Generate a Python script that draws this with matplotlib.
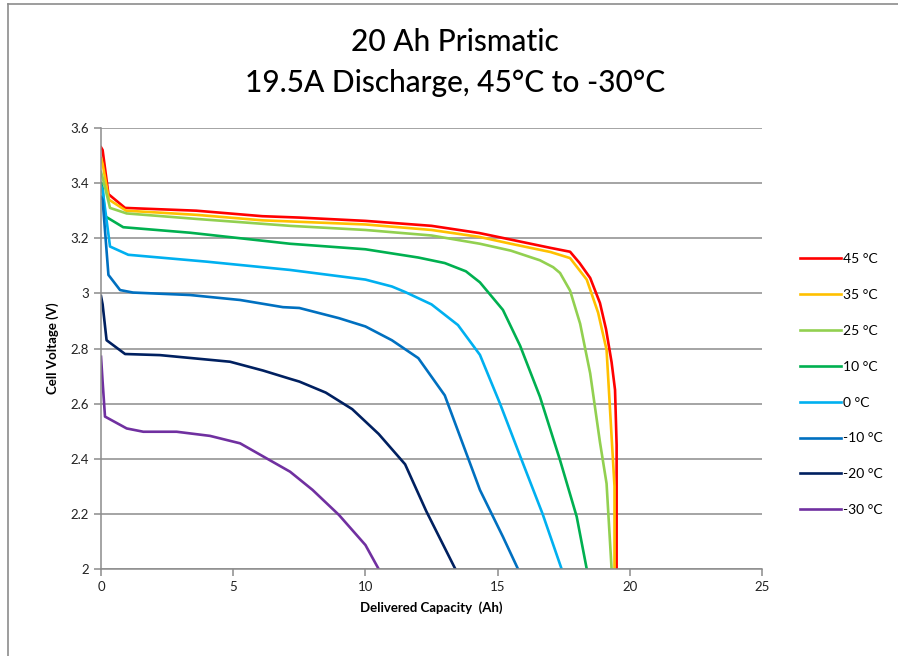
import numpy as np
import matplotlib.pyplot as plt
from matplotlib.lines import Line2D

plt.rcParams['font.family'] = ['Lato', 'DejaVu Sans']

# discharge curves (capacity Ah, voltage V)
cap_45 = [0, 0.06, 0.28, 0.91, 3.6, 6.1, 7.5, 10, 12.5, 14.3, 15.5, 17.0, 17.74, 18.1, 18.5, 18.87, 19.1, 19.31, 19.44, 19.5, 19.5]
v_45 = [3.53, 3.52, 3.36, 3.31, 3.30, 3.28, 3.275, 3.263, 3.245, 3.219, 3.195, 3.165, 3.151, 3.11, 3.056, 2.965, 2.87, 2.75, 2.65, 2.45, 2.0]

cap_35 = [0, 0.06, 0.3, 0.95, 3.6, 6.1, 10, 12.5, 14.3, 15.5, 17.0, 17.74, 18.37, 18.8, 19.12, 19.31, 19.42, 19.42]
v_35 = [3.49, 3.47, 3.34, 3.30, 3.285, 3.265, 3.25, 3.23, 3.205, 3.18, 3.15, 3.128, 3.05, 2.93, 2.795, 2.48, 2.3, 2.0]

cap_25 = [0, 0.06, 0.34, 0.97, 3.62, 7.15, 10, 12.5, 14.33, 15.5, 16.6, 17.1, 17.36, 17.74, 18.12, 18.5, 18.87, 19.12, 19.31]
v_25 = [3.44, 3.42, 3.31, 3.29, 3.27, 3.245, 3.23, 3.21, 3.18, 3.155, 3.12, 3.095, 3.074, 3.01, 2.89, 2.71, 2.46, 2.31, 2.0]

cap_10 = [0, 0.06, 0.15, 0.84, 3.37, 7.15, 10, 12.0, 13.0, 13.8, 14.33, 15.2, 15.85, 16.6, 17.36, 17.99, 18.37]
v_10 = [3.40, 3.38, 3.28, 3.24, 3.22, 3.18, 3.16, 3.13, 3.11, 3.08, 3.04, 2.94, 2.81, 2.625, 2.395, 2.19, 2.0]

cap_0 = [0, 0.06, 0.34, 1.03, 4.0, 7.15, 10, 11.0, 11.5, 12.5, 13.5, 14.33, 15.09, 15.85, 16.7, 17.42]
v_0 = [3.39, 3.375, 3.17, 3.14, 3.115, 3.085, 3.05, 3.025, 3.005, 2.96, 2.885, 2.777, 2.60, 2.41, 2.20, 2.0]

cap_m10 = [0, 0.06, 0.28, 0.72, 1.21, 3.37, 5.26, 6.88, 7.5, 9, 10, 11, 12, 13, 14.33, 15.2, 15.77]
v_m10 = [3.35, 3.34, 3.067, 3.012, 3.003, 2.994, 2.976, 2.95, 2.947, 2.91, 2.88, 2.83, 2.765, 2.63, 2.287, 2.117, 2.0]

cap_m20 = [0, 0.06, 0.21, 0.91, 2.23, 4.88, 6.13, 7.15, 7.5, 8.5, 9.5, 10.5, 11.5, 12.3, 13.4]
v_m20 = [2.99, 2.96, 2.83, 2.78, 2.776, 2.752, 2.72, 2.69, 2.68, 2.64, 2.58, 2.49, 2.38, 2.21, 2.0]

cap_m30 = [0, 0.06, 0.15, 0.97, 1.6, 2.86, 4.12, 5.26, 7.15, 8, 9, 10, 10.5]
v_m30 = [2.77, 2.68, 2.553, 2.51, 2.498, 2.498, 2.483, 2.456, 2.353, 2.287, 2.196, 2.087, 2.0]

labels = ['45 °C', '35 °C', '25 °C', '10 °C', '0 °C', '-10 °C', '-20 °C', '-30 °C']
colors = ['#FF0000', '#FFC000', '#92D050', '#00B050', '#00B0F0', '#0070C0', '#002060', '#7030A0']
caps = [cap_45, cap_35, cap_25, cap_10, cap_0, cap_m10, cap_m20, cap_m30]
volts = [v_45, v_35, v_25, v_10, v_0, v_m10, v_m20, v_m30]

fig = plt.figure(figsize=(8.98, 6.56), dpi=100)
ax = fig.add_axes([0.1125, 0.1326, 0.7361, 0.6723])

for c, v, lab, col in zip(caps, volts, labels, colors):
    ax.plot(c, v, color=col, lw=1.9, label=lab)

ax.set_xlim(0, 25)
ax.set_ylim(2, 3.6)
ax.set_xticks(np.arange(0, 26, 5))
ax.set_yticks(np.arange(2, 3.61, 0.2))
ax.set_yticklabels(['2', '2.2', '2.4', '2.6', '2.8', '3', '3.2', '3.4', '3.6'])
ax.grid(axis='y', color='#8c8c8c', lw=1.1)
ax.set_axisbelow(True)
for s in ['top', 'right']:
    ax.spines[s].set_visible(False)
for s in ['left', 'bottom']:
    ax.spines[s].set_color('#8c8c8c')
    ax.spines[s].set_linewidth(1.1)
ax.tick_params(colors='#8c8c8c', labelcolor='#222222', labelsize=9.5, length=5, width=1.1)

ax.set_xlabel('Delivered Capacity  (Ah)', fontsize=9.5, fontweight='bold', labelpad=6)
ax.set_ylabel('Cell Voltage (V)', fontsize=9.5, fontweight='bold', labelpad=8)

fig.text(0.507, 0.936, '20 Ah Prismatic', ha='center', va='center', fontsize=21.5, fontweight='medium')
fig.text(0.507, 0.874, '19.5A Discharge, 45°C to -30°C', ha='center', va='center', fontsize=21.5,
         fontweight='medium')

ax.legend(loc='upper left', bbox_to_anchor=(1.038, 0.745), frameon=False, fontsize=10,
          handlelength=3.0, handletextpad=0.15, labelspacing=1.72)

# chart border (left and top edges visible)
fig.add_artist(Line2D([0.0085, 0.0085], [0, 0.994], color='#8c8c8c', lw=1.2))
fig.add_artist(Line2D([0.0085, 1], [0.994, 0.994], color='#8c8c8c', lw=1.2))

fig.savefig('out.png', dpi=100)
